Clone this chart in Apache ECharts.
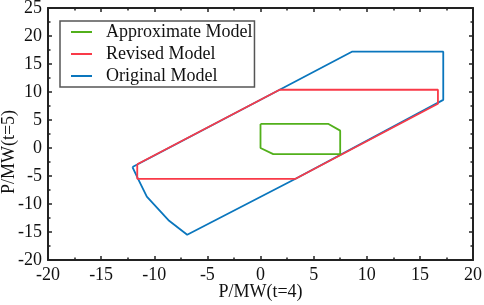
<!DOCTYPE html>
<html>
<head>
<meta charset="utf-8">
<script src="https://cdn.jsdelivr.net/npm/echarts@6/dist/echarts.min.js"></script>
<style>
  html, body { margin: 0; padding: 0; background: #fff; }
  #chart { width: 484px; height: 305px; }
</style>
</head>
<body>
<div id="chart"></div>
<script>
// polygon vertices, [P(t=4), P(t=5)], closed by repeating the first point
const approximate = [[0.0, 4.3], [6.4, 4.3], [7.5, 3.1], [7.5, -1.1], [1.2, -1.1], [0.0, 0.0], [0.0, 4.3]]
const revised = [[-11.6, -2.9], [1.8, 10.4], [16.7, 10.4], [16.7, 7.9], [3.3, -5.5], [-11.6, -5.5], [-11.6, -2.9]]
const original = [[-12.05, -3.4], [1.8, 10.4], [8.6, 17.2], [17.2, 17.2], [17.2, 8.6], [3.3, -5.5],
  [-6.9, -15.5], [-8.6, -13.0], [-10.7, -8.7], [-11.5, -5.6], [-12.05, -3.4]]

const seriesNames = ["Approximate Model", "Revised Model", "Original Model"]
const colors = { "Approximate Model": "#52b01b", "Revised Model": "#f93a48", "Original Model": "#0a76bd" }

const font = "'Liberation Serif', 'Times New Roman', serif"
const labelStyle = { color: "#111", fontSize: 18, fontFamily: font }

function axisBase(extra) {
  return Object.assign({
    type: "value",
    interval: 5,
    nameMoveOverlap: false,
    axisLine: { onZero: false, lineStyle: { color: "#222", width: 2 } },
    axisTick: { inside: true, length: 4, lineStyle: { color: "#222", width: 1.5 } },
    minorTick: { show: true, splitNumber: 2, length: 2.5, lineStyle: { color: "#222", width: 1.5 } },
    splitLine: { show: false }
  }, extra)
}

const chart = echarts.init(document.getElementById("chart"), null, { renderer: "canvas" })

function line(name, data) {
  return {
    name,
    type: "line",
    data,
    symbol: "none",
    silent: true,
    lineStyle: { color: colors[name], width: 1.8 },
    itemStyle: { color: colors[name] }
  }
}

chart.setOption({
  animation: false,
  grid: { left: 48, right: 11, top: 8, bottom: 45, outerBoundsMode: "none", containLabel: false },
  legend: {
    data: seriesNames,
    orient: "vertical",
    left: 60,
    top: 21,
    padding: [0, 2, 0, 11],
    itemGap: 0,
    icon: "rect",
    itemWidth: 21,
    itemHeight: 2,
    borderColor: "#555",
    borderWidth: 1.5,
    textStyle: Object.assign({}, labelStyle, { lineHeight: 22, padding: [0, 0, 0, 9] })
  },
  xAxis: [
    axisBase({
      min: -20, max: 20, position: "bottom",
      name: "P/MW(t=4)", nameLocation: "middle", nameGap: 23,
      nameTextStyle: labelStyle,
      axisLabel: Object.assign({ margin: 6 }, labelStyle)
    }),
    axisBase({ min: -20, max: 20, position: "top", axisLabel: { show: false } })
  ],
  yAxis: [
    axisBase({
      min: -20, max: 25, position: "left",
      name: "P/MW(t=5)", nameLocation: "middle", nameGap: 30,
      nameTextStyle: Object.assign({ padding: [0, 36, 0, 0] }, labelStyle),
      axisLabel: Object.assign({ margin: 6 }, labelStyle)
    }),
    axisBase({ min: -20, max: 25, position: "right", axisLabel: { show: false } })
  ],
  series: [
    line("Original Model", original),
    line("Revised Model", revised),
    line("Approximate Model", approximate)
  ]
})
</script>
</body>
</html>
